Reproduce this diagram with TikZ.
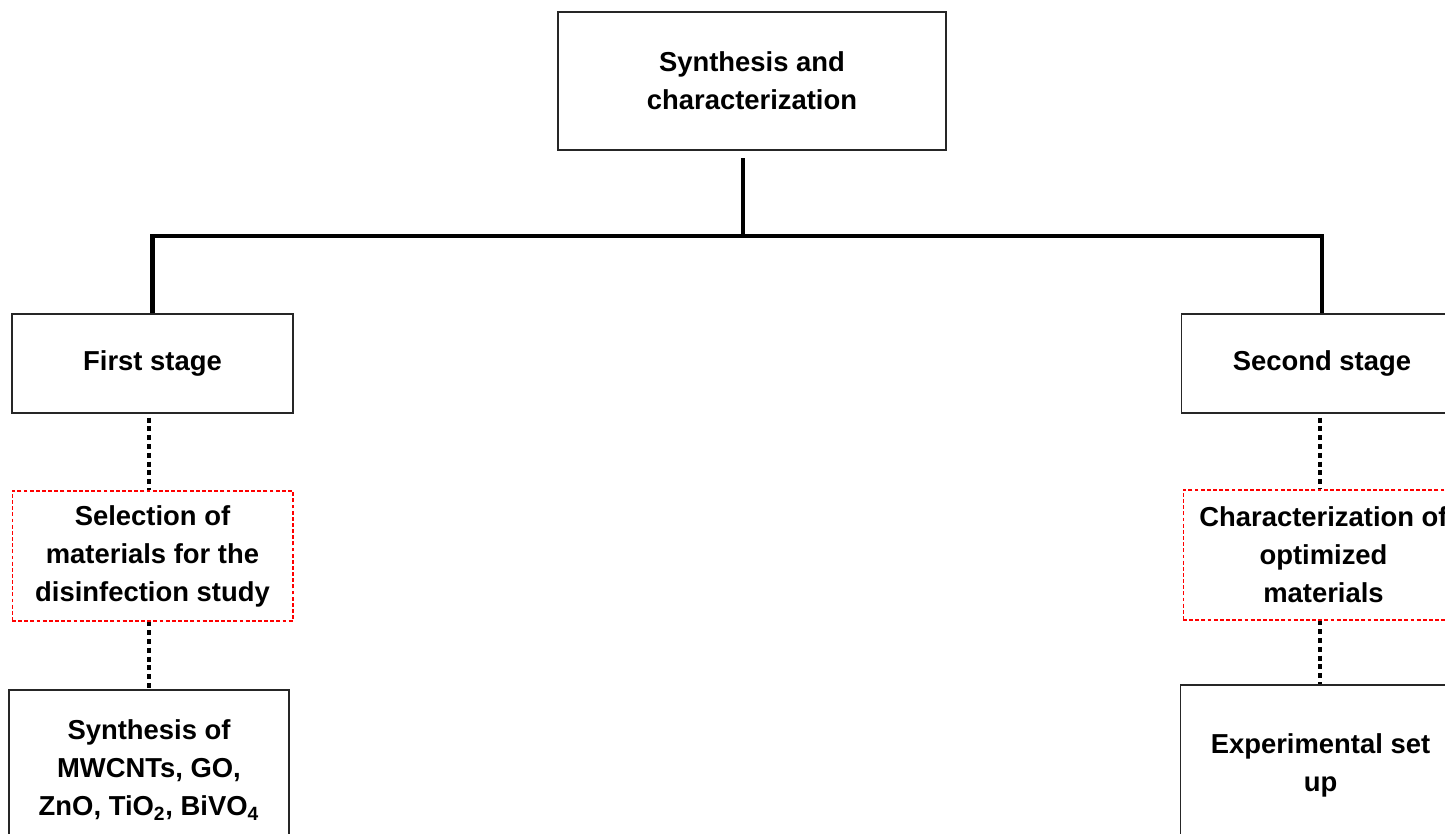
\documentclass[tikz,border=0pt]{standalone}
\usepackage{fontspec}
\setmainfont{Liberation Sans}
\usepackage{tikz}

\tikzset{
	stagebox/.style={shape=rectangle,draw=black!85,line width=0.8pt,align=center,
		minimum width=5.62cm,minimum height=1.98cm,inner sep=2pt,
		font=\fontsize{15.6}{21.6}\selectfont\bfseries},
	taskbox/.style={stagebox,draw=red,line width=0.6pt,dash pattern=on 2.2pt off 1.3pt,
		minimum height=2.6cm},
	trunk/.style={line width=2.3pt,black},
	dotline/.style={line width=2.8pt,black,dash pattern=on 2.8pt off 2.2pt}
}

\begin{document}
\begin{tikzpicture}[x=0.02cm,y=-0.02cm]
	\useasboundingbox (0,0) rectangle (1445,833);
	\clip (0,0) rectangle (1445,833);
	
	\node[stagebox,minimum width=7.76cm,minimum height=2.76cm] (top) at (752, 81) {Synthesis and\\characterization};
	\node[stagebox] (first) at (152.5, 363.5) {First stage};
	\node[stagebox] (second) at (1322, 363.5) {Second stage};
	\node[taskbox] (select) at (152.5, 556) {Selection of\\materials for the\\disinfection study};
	\node[taskbox] (charopt) at (1323.5, 555) {Characterization of\\optimized\\materials};
	\node[stagebox,minimum width=5.6cm,minimum height=3.2cm] (synth) at (149, 770) {Synthesis of\\MWCNTs, GO,\\ZnO, TiO\textsubscript{2}, BiVO\textsubscript{4}};
	\node[stagebox,minimum width=5.6cm,minimum height=3.2cm] (setup) at (1320.5, 765) {Experimental set\\up};
	
	\coordinate (hub) at (743, 236);
	\coordinate (leftdot) at (149, 0);
	\coordinate (rightdot) at (1320, 0);
	
	\draw[trunk] (hub) -- ([yshift=-7*0.02cm]hub |- top.south);
	\draw[trunk] (first.north) -- (first.north |- hub) -- (second.north |- hub) -- (second.north);
	
	\draw[dotline] ([yshift=-0.08cm]leftdot |- first.south) -- (leftdot |- select.north);
	\draw[dotline] (leftdot |- select.south) -- (leftdot |- synth.north);
	\draw[dotline] ([yshift=-0.08cm]rightdot |- second.south) -- (rightdot |- charopt.north);
	\draw[dotline] (rightdot |- charopt.south) -- (rightdot |- setup.north);
\end{tikzpicture}
\end{document}
